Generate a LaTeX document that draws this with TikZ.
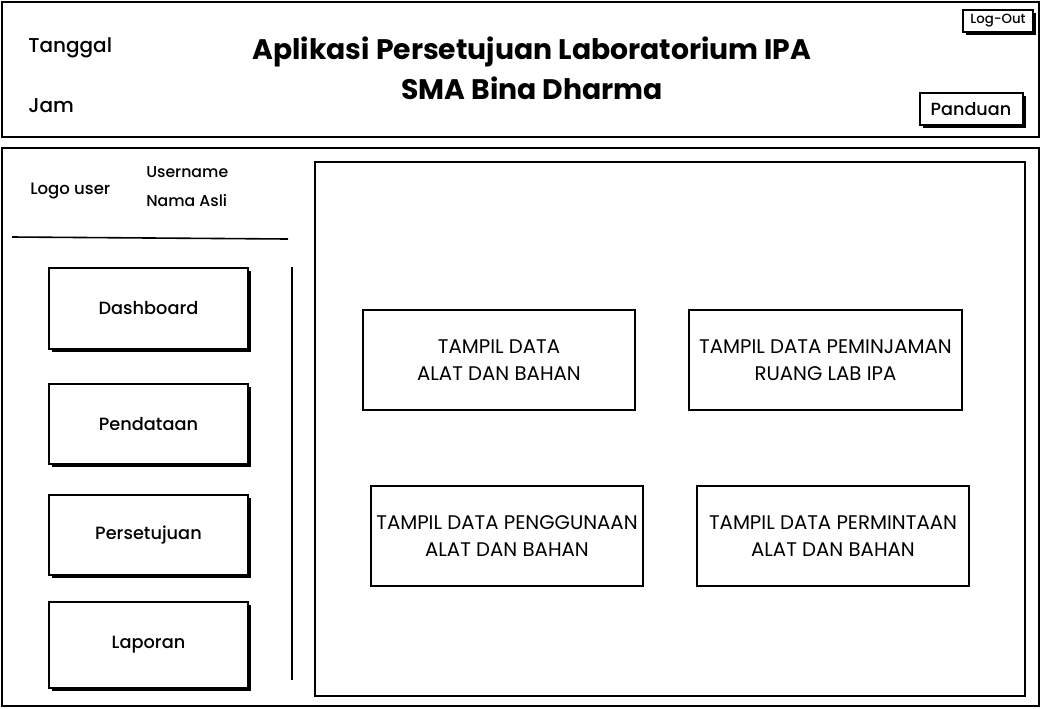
\documentclass[tikz,border=0pt]{standalone}
\usepackage{fontspec}
\setmainfont{Poppins}
\newfontfamily\medfont{Poppins Medium}
\begin{document}
\begin{tikzpicture}[x=0.75pt,y=-0.75pt,
  frame/.style={draw=black,line width=1.6pt},
  thin/.style={draw=black,line width=1.2pt},
  btn/.style={draw=black,line width=1.2pt,fill=white},
  shadowbox/.style={fill=black},
  lbl/.style={inner sep=0pt,font=\medfont\fontsize{15}{17}\selectfont},
  menu/.style={inner sep=0pt,font=\medfont\fontsize{13.3}{16}\selectfont},
  content/.style={inner sep=0pt,align=center,font=\fontsize{14.8}{20.5}\selectfont}]
\useasboundingbox (0,0) rectangle (1043,708);
% header
\draw[frame] (2,2) rectangle (1039,137);
\node[lbl,anchor=west] (tgl) at (28,48) {Tanggal};
\node[lbl,anchor=west] (jam) at (28,106) {Jam};
\node[inner sep=0pt,align=center,font=\fontsize{21.2}{30}\selectfont\bfseries] (title) at (532,68) {Aplikasi Persetujuan Laboratorium IPA\\SMA Bina Dharma};
% Log-Out
\fill[shadowbox] (966,13) rectangle (1036,35);
\draw[btn] (963,10) rectangle (1033,32);
\node[inner sep=0pt,font=\medfont\fontsize{10}{11}\selectfont] (logout) at (998,21) {Log-Out};
% Panduan
\fill[shadowbox] (923,96) rectangle (1026,128);
\draw[btn] (920,93) rectangle (1023,125);
\node[inner sep=0pt,font=\medfont\fontsize{13.2}{15}\selectfont] (panduan) at (971,109) {Panduan};
% main
\draw[frame] (2,148) rectangle (1039,706);
\draw[frame] (315,162) rectangle (1025,696);
\node[inner sep=0pt,anchor=west,font=\medfont\fontsize{12.4}{14}\selectfont] (logo) at (30,191) {Logo user};
\node[inner sep=0pt,anchor=west,font=\medfont\fontsize{11.8}{14}\selectfont] (uname) at (146,172) {Username};
\node[inner sep=0pt,anchor=west,font=\medfont\fontsize{11.8}{14}\selectfont] (nama) at (146,201) {Nama Asli};
\coordinate (d1) at (12,237);
\coordinate (d2) at (288,239);
\draw[thin] (d1) -- (d2);
\coordinate (v1) at (292,267);
\coordinate (v2) at (292,680);
\draw[thin] (v1) -- (v2);
% menu buttons
\foreach \t/\b/\txt/\nm in {268/349/Dashboard/mdash,384/464/Pendataan/mpend,495/575/Persetujuan/mpers,602/688/Laporan/mlap}{
  \fill[shadowbox] (52,\t+3) rectangle (251,\b+3);
  \draw[btn] (49,\t) rectangle (248,\b);
  \node[menu] (\nm) at (148.5,{(\t+\b)/2}) {\txt};
}
% content boxes
\node[thin,minimum width=272*0.75pt,minimum height=100*0.75pt,content] (c1) at (499,360) {TAMPIL DATA\\ALAT DAN BAHAN};
\node[thin,minimum width=273*0.75pt,minimum height=100*0.75pt,content] (c2) at (825.5,360) {TAMPIL DATA PEMINJAMAN\\RUANG LAB IPA};
\node[thin,minimum width=272*0.75pt,minimum height=100*0.75pt,content] (c3) at (507,536) {TAMPIL DATA PENGGUNAAN\\ALAT DAN BAHAN};
\node[thin,minimum width=272*0.75pt,minimum height=100*0.75pt,content] (c4) at (833,536) {TAMPIL DATA PERMINTAAN\\ALAT DAN BAHAN};
\end{tikzpicture}
\end{document}
